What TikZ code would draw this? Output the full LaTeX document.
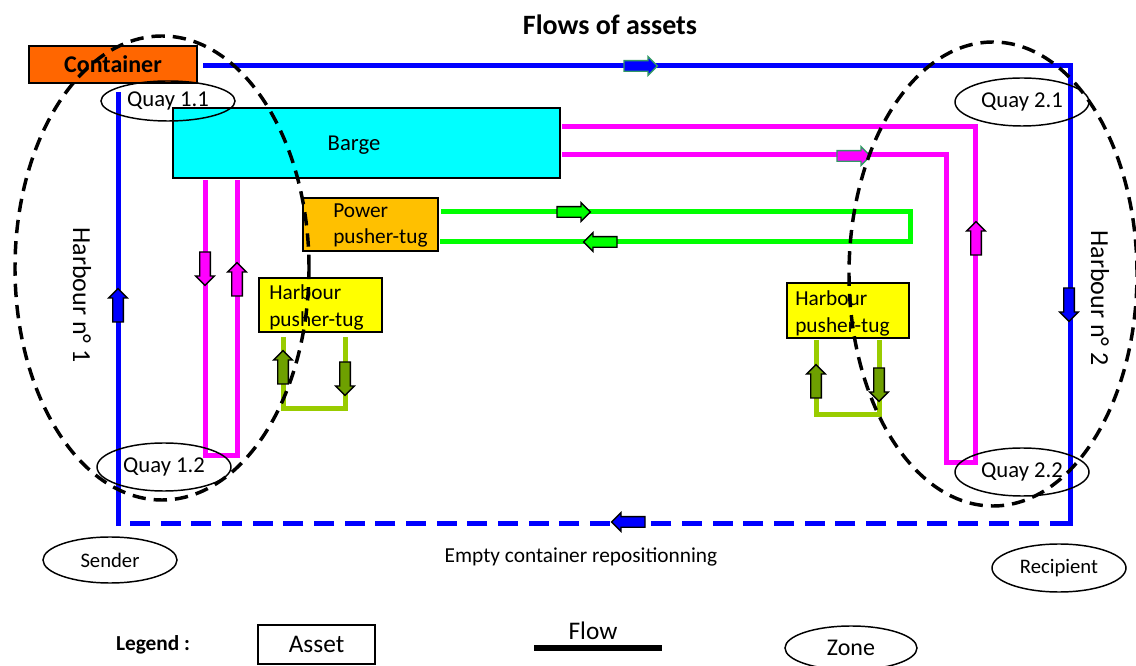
\documentclass[tikz,border=0pt]{standalone}
\usepackage{fontspec}
\setmainfont{Carlito}
\usetikzlibrary{shapes.arrows,shapes.geometric}
\definecolor{bl}{RGB}{0,0,255}
\definecolor{mg}{RGB}{255,0,255}
\definecolor{gr}{RGB}{0,255,0}
\definecolor{ol}{RGB}{153,204,0}
\definecolor{olf}{RGB}{110,160,0}
\definecolor{orng}{RGB}{255,102,0}
\definecolor{cy}{RGB}{0,255,255}
\definecolor{goldb}{RGB}{255,192,0}
\definecolor{yel}{RGB}{255,255,0}
\definecolor{tealo}{RGB}{51,153,102}
\begin{document}
\begin{tikzpicture}[x=0.75pt,y=-0.75pt,
 box/.style={draw=black, line width=1.2pt, rectangle, inner sep=0pt},
 txt/.style={inner sep=0pt, font=\fontsize{16}{19}\selectfont},
 quay/.style={draw=black, line width=1.1pt, ellipse, inner sep=0pt, minimum width=100.5pt, minimum height=36pt, font=\fontsize{17}{20}\selectfont},
 zonedash/.style={draw=black, ellipse, line width=2.6pt, dash pattern=on 10pt off 6pt, inner sep=0pt},
 bflow/.style={draw=bl, line width=3.75pt},
 mflow/.style={draw=mg, line width=3.75pt},
 gflow/.style={draw=gr, line width=3.75pt},
 oflow/.style={draw=ol, line width=3.75pt},
 blk/.style={single arrow, draw=black, line width=1pt, minimum height=25pt, inner xsep=0pt, inner ysep=3.5pt, text height=0pt, text depth=0pt, single arrow head extend=3pt},
]
\useasboundingbox (0,0) rectangle (1136,666);

% title
\node[inner sep=0pt, font=\bfseries\fontsize{21}{25}\selectfont] (title) at (610,25) {Flows of assets};

% boxes
\node[box, fill=orng, minimum width=126pt, minimum height=27.75pt, font=\bfseries\fontsize{18}{21}\selectfont] (cont) at (113,64.5) {Container};
\node[box, fill=cy, minimum width=290.25pt, minimum height=52.5pt] (barge) at (366.5,143) {};
\node[txt, font=\fontsize{17}{20}\selectfont] (bargetxt) at (354,145) {Barge};
\node[box, fill=goldb, minimum width=101.25pt, minimum height=39.75pt] (power) at (370.5,224.5) {};
\node[txt, anchor=base west] (pw1) at (333,218) {Power};
\node[txt, anchor=base west] (pw2) at (333,244) {pusher-tug};
\node[box, fill=yel, minimum width=92.25pt, minimum height=40.5pt] (htl) at (320.5,305) {};
\node[txt, anchor=base west] (hl1) at (269,300) {Harbour};
\node[txt, anchor=base west] (hl2) at (269,327) {pusher-tug};
\node[box, fill=yel, minimum width=91.5pt, minimum height=41.25pt] (htr) at (848,310.5) {};
\node[txt, anchor=base west] (hr1) at (795,306) {Harbour};
\node[txt, anchor=base west] (hr2) at (795,333) {pusher-tug};

% blue flow
\coordinate (b0) at (205,66);
\coordinate (b1) at (1070,66);
\coordinate (b2) at (1070,524);
\coordinate (b3) at (118,524);
\coordinate (b4) at (118,95);
\draw[bflow, line cap=rect] (b0) -- (b1) -- (b2);
\draw[bflow, dash pattern=on 15pt off 8pt] (b2) -- (b3);
\draw[bflow, line cap=rect] (b3) -- (b4);

% magenta flows
\coordinate (m1) at (562,155);
\coordinate (m2) at (946,155);
\coordinate (m3) at (946,463);
\coordinate (m4) at (975,463);
\coordinate (m5) at (975,127);
\coordinate (m6) at (562,127);
\draw[mflow] (m1) -- (m2) -- (m3) -- (m4) -- (m5) -- (m6);
\coordinate (n1) at (205,180);
\coordinate (n2) at (205,456);
\coordinate (n3) at (237,456);
\coordinate (n4) at (237,180);
\draw[mflow] (n1) -- (n2) -- (n3) -- (n4);

% green flow
\coordinate (g1) at (441,212);
\coordinate (g2) at (910,212);
\coordinate (g3) at (910,242);
\coordinate (g4) at (440,242);
\draw[gflow] (g1) -- (g2) -- (g3) -- (g4);

% olive flows
\coordinate (o1) at (283,337);
\coordinate (o2) at (283,409);
\coordinate (o3) at (345,409);
\coordinate (o4) at (345,337);
\draw[oflow] (o1) -- (o2) -- (o3) -- (o4);
\coordinate (p1) at (816,340);
\coordinate (p2) at (816,415);
\coordinate (p3) at (879,415);
\coordinate (p4) at (879,340);
\draw[oflow] (p1) -- (p2) -- (p3) -- (p4);

% arrows
\node[blk, fill=bl, draw=tealo] (a1) at (638,66) {};
\node[blk, fill=bl, rotate=-90] (a2) at (1069,302) {};
\node[blk, fill=bl, rotate=180] (a3) at (631,522) {};
\node[blk, fill=bl, rotate=90] (a4) at (118,308) {};
\node[blk, fill=mg, draw=tealo] (a5) at (851,156) {};
\node[blk, fill=mg, rotate=90] (a6) at (976,241) {};
\node[blk, fill=mg, rotate=-90] (a7) at (205,266) {};
\node[blk, fill=mg, rotate=90] (a8) at (237,282) {};
\node[blk, fill=gr] (a9) at (571,212) {};
\node[blk, fill=gr, rotate=180] (a10) at (603,242) {};
\node[blk, fill=olf, rotate=90] (a11) at (283,370) {};
\node[blk, fill=olf, rotate=-90] (a12) at (345,376) {};
\node[blk, fill=olf, rotate=90] (a13) at (816,384) {};
\node[blk, fill=olf, rotate=-90] (a14) at (879,382) {};

% quays
\node[quay, minimum height=30pt] (q11) at (168,101) {Quay 1.1};
\node[quay] (q12) at (164,467) {Quay 1.2};
\node[quay] (q21) at (1022,102) {Quay 2.1};
\node[quay] (q22) at (1022,472) {Quay 2.2};
\node[quay, minimum height=34.5pt, font=\fontsize{15.5}{18}\selectfont] (sender) at (110,560) {Sender};
\node[quay, font=\fontsize{15.5}{18}\selectfont] (recip) at (1059,568) {Recipient};

% harbour labels
\node[inner sep=0pt, rotate=-90, font=\fontsize{19.5}{23}\selectfont] (h1lab) at (82,295) {Harbour n° 1};
\node[inner sep=0pt, rotate=-90, font=\fontsize{19.5}{23}\selectfont] (h2lab) at (1100,298) {Harbour n° 2};

\node[txt] (empty) at (581,557) {Empty container repositionning};

% legend
\node[inner sep=0pt, font=\bfseries\fontsize{16}{19}\selectfont] (leg) at (153,645) {Legend :};
\node[box, line width=1pt, minimum width=87.75pt, minimum height=29.25pt, font=\fontsize{19}{22}\selectfont] (asset) at (316.5,644.5) {Asset};
\node[inner sep=0pt, font=\fontsize{19}{22}\selectfont] (flowt) at (593,631) {Flow};
\coordinate (f1) at (534,648);
\coordinate (f2) at (662,648);
\draw[line width=4.5pt] (f1) -- (f2);
\node[draw=black, ellipse, line width=1.1pt, inner sep=0pt, minimum width=99pt, minimum height=33pt, font=\fontsize{18}{21}\selectfont] (zone) at (851,648) {Zone};

% zones (dashed)
\node[zonedash, minimum width=220.5pt, minimum height=348pt] (z1) at (162,268) {};
\node[zonedash, minimum width=216pt, minimum height=348pt] (z2) at (993,274) {};
\end{tikzpicture}
\end{document}
